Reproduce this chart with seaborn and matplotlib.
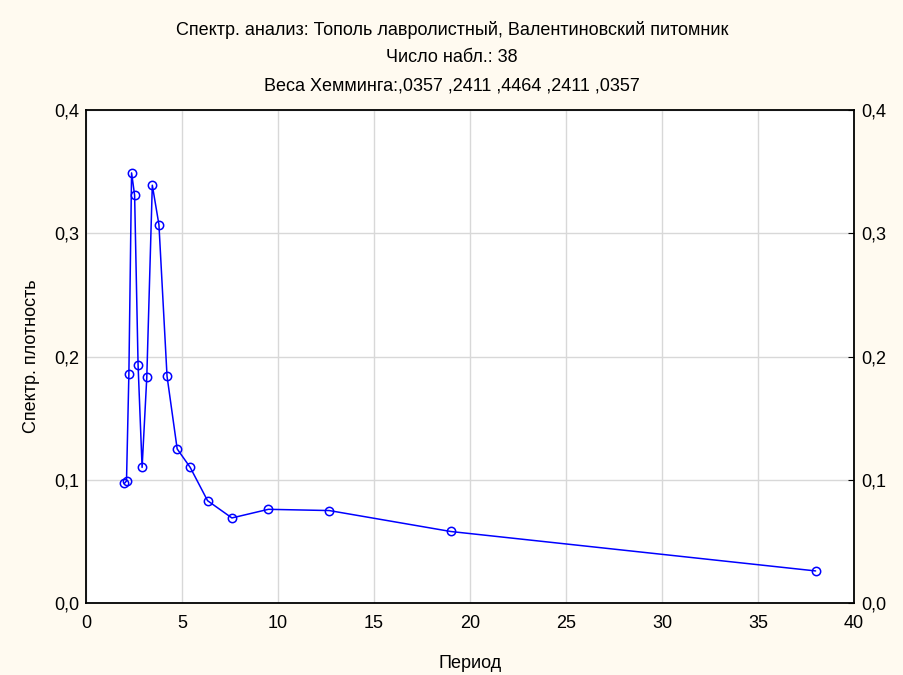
import matplotlib
matplotlib.use("Agg")
import matplotlib.pyplot as plt
import seaborn as sns
import pandas as pd

# periods (N=38 / k) and smoothed spectral density
period = [2.0, 2.111, 2.235, 2.375, 2.533, 2.714, 2.923, 3.167, 3.455, 3.8,
          4.222, 4.75, 5.429, 6.333, 7.6, 9.5, 12.667, 19.0, 38.0]
density = [0.097, 0.099, 0.186, 0.349, 0.331, 0.193, 0.110, 0.183, 0.339, 0.307,
           0.184, 0.125, 0.110, 0.083, 0.069, 0.076, 0.075, 0.058, 0.026]

title_lines = ["Спектр. анализ: Тополь лавролистный, Валентиновский питомник",
               "Число набл.: 38",
               "Веса Хемминга:,0357 ,2411 ,4464 ,2411 ,0357"]
xticks = [0, 5, 10, 15, 20, 25, 30, 35, 40]
yticks = [0.0, 0.1, 0.2, 0.3, 0.4]
ytick_labels = ["0,0", "0,1", "0,2", "0,3", "0,4"]

df = pd.DataFrame({"period": period, "density": density})

sns.set_style("white")
plt.rcParams["font.family"] = ["Liberation Sans", "DejaVu Sans"]
plt.rcParams["text.color"] = "black"
plt.rcParams["axes.labelcolor"] = "black"

bg = "#FFFAF0"
fig = plt.figure(figsize=(9.04, 6.75), dpi=100, facecolor=bg)
ax = fig.add_axes([0.0951, 0.1067, 0.8496, 0.7303])
ax.set_facecolor("white")

sns.lineplot(data=df, x="period", y="density", ax=ax, color="#0000FF",
             linewidth=1.1, marker="o", markersize=6, markerfacecolor="none",
             markeredgecolor="#0000FF", markeredgewidth=1.1)

ax.set_xlim(0, 40)
ax.set_ylim(0, 0.4)
ax.set_xticks(xticks)
ax.set_xticklabels([str(t) for t in xticks])
ax.set_yticks(yticks)
ax.set_yticklabels(ytick_labels)
ax.grid(True, color="#D8D8D8", linewidth=1.0)
ax.set_axisbelow(True)

ax.tick_params(axis="both", direction="in", length=4, labelsize=13,
               color="black", labelcolor="black", pad=5)
ax.tick_params(axis="y", right=True, labelright=True)
ax.tick_params(axis="x", pad=9)
for s in ax.spines.values():
    s.set_color("black")
    s.set_linewidth(1.3)

ax.set_xlabel("Период", fontsize=13, labelpad=16)
ax.set_ylabel("Спектр. плотность", fontsize=13, labelpad=10)

for i, t in enumerate(title_lines):
    fig.text(0.5, 1 - (30 + 28 * i) / 675, t, ha="center", va="center", fontsize=13)

fig.savefig("out.png", dpi=100, facecolor=bg)
